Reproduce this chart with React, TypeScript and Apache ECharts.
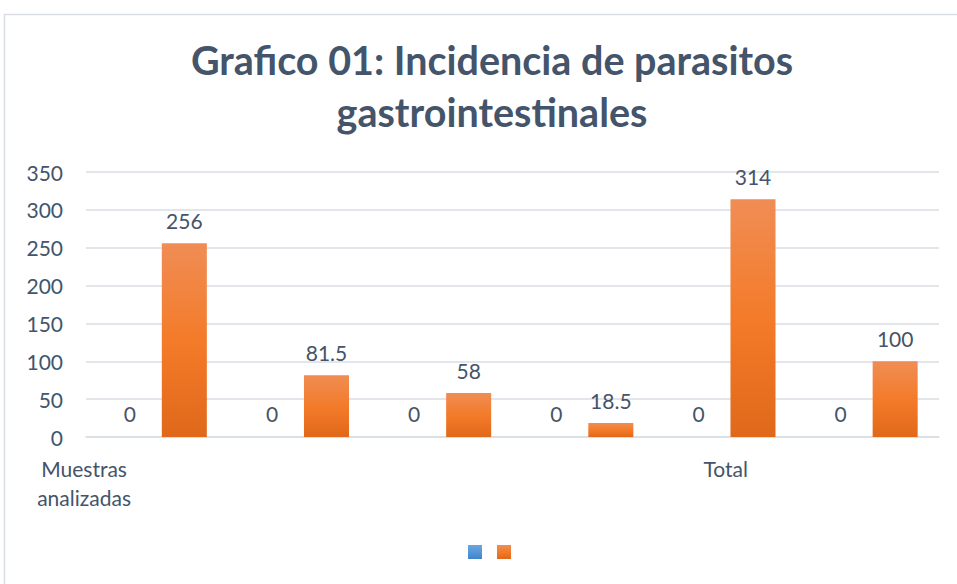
import React, { useEffect, useRef } from "react";
import * as echarts from "echarts";

const categories = ["Muestras\nanalizadas", "", "", "", "Total", ""];
const seriesBlue = [0, 0, 0, 0, 0, 0];
const seriesOrange = [256, 81.5, 58, 18.5, 314, 100];
const yTicks = { min: 0, max: 350, interval: 50 };
const titleText = "Grafico 01: Incidencia de parasitos\ngastrointestinales";

const TEXT = "#44546A";
const FONT = "Lato";

export default function App() {
  const ref = useRef<HTMLDivElement>(null);
  useEffect(() => {
    if (!ref.current) return;
    const chart = echarts.init(ref.current, undefined, { renderer: "svg" });
    const orangeGrad = new echarts.graphic.LinearGradient(0, 0, 0, 1, [
      { offset: 0, color: "#F08D55" },
      { offset: 0.5, color: "#F37B29" },
      { offset: 1, color: "#E0681A" },
    ]);
    const blueGrad = new echarts.graphic.LinearGradient(0, 0, 0, 1, [
      { offset: 0, color: "#6DA6DE" },
      { offset: 0.5, color: "#5597D8" },
      { offset: 1, color: "#3F83C9" },
    ]);
    chart.setOption({
      animation: false,
      backgroundColor: "#FFFFFF",
      graphic: [
        {
          type: "rect",
          shape: { x: 4.5, y: 14.5, width: 1000, height: 1000 },
          style: { fill: "none", stroke: "#D9DEE4", lineWidth: 1.5 },
          silent: true,
          z: -10,
        },
      ],
      title: {
        text: titleText,
        left: 492,
        textAlign: "center",
        top: 33,
        padding: 0,
        textStyle: {
          fontFamily: FONT,
          fontWeight: "bold",
          fontSize: 39.5,
          lineHeight: 52,
          color: TEXT,
        },
      },
      legend: {
        top: 545,
        left: 468,
        padding: 0,
        itemWidth: 14,
        itemHeight: 14,
        itemGap: 15,
        icon: "rect",
        formatter: () => "",
        data: ["Serie 1", "Serie 2"],
      },
      grid: { left: 86, right: 18, top: 172, bottom: 147, containLabel: false },
      xAxis: {
        type: "category",
        data: categories.map((c, i) =>
          i === 0 ? { value: c, textStyle: { padding: [0, 146, 0, 0] } } : c
        ),
        axisLine: { show: true, lineStyle: { color: "#D9DEE4", width: 1.5 } },
        axisTick: { show: false },
        axisLabel: {
          interval: 0,
          margin: 17,
          fontFamily: FONT,
          fontSize: 21,
          lineHeight: 29,
          color: TEXT,
        },
      },
      yAxis: {
        type: "value",
        min: yTicks.min,
        max: yTicks.max,
        interval: yTicks.interval,
        axisLine: { show: false },
        axisTick: { show: false },
        splitLine: { lineStyle: { color: "#D9DEE4", width: 1.5 } },
        axisLabel: {
          margin: 23,
          fontFamily: FONT,
          fontSize: 21,
          color: TEXT,
        },
      },
      series: [
        {
          name: "Serie 1",
          type: "bar",
          data: seriesBlue,
          itemStyle: { color: blueGrad },
          barGap: "21%",
          barCategoryGap: "30%",
          label: {
            show: true,
            position: "top",
            distance: 13,
            fontFamily: FONT,
            fontSize: 21,
            color: TEXT,
          },
        },
        {
          name: "Serie 2",
          type: "bar",
          data: seriesOrange,
          itemStyle: { color: orangeGrad },
          barGap: "21%",
          barCategoryGap: "30%",
          label: {
            show: true,
            position: "top",
            distance: 12,
            fontFamily: FONT,
            fontSize: 21,
            color: TEXT,
          },
        },
      ],
    });
    return () => chart.dispose();
  }, []);
  return (
    <div
      ref={ref}
      style={{ position: "fixed", left: 0, top: 0, width: 957, height: 584 }}
    />
  );
}
